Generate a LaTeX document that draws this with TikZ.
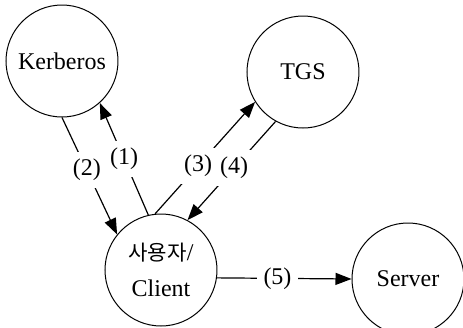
\documentclass[tikz,border=0pt]{standalone}
\usepackage{fontspec}
\setmainfont{Liberation Serif}
\newfontfamily\kor{Noto Sans CJK KR}[Scale=0.88]
\usetikzlibrary{arrows.meta}

\begin{document}
\begin{tikzpicture}[x=0.5pt,y=-0.5pt,
    circ/.style={draw,circle,minimum size=56pt,inner sep=0pt,line width=0.5pt},
    lbl/.style={fill=white,inner sep=3.5pt},
    >={Triangle[length=8pt,width=6pt]},line width=0.6pt,
    font=\fontsize{12}{14}\selectfont]
  \useasboundingbox (0,0) rectangle (463,328);
  % nodos
  \node[circ] (kerb) at (62,61) {Kerberos};
  \node[circ] (tgs) at (303,72) {TGS};
  \node[circ,align=center] (cli) at (161,270) {{\kor 사용자}/\\[4pt]Client};
  \node[circ] (serv) at (408,279) {Server};
  % flechas
  \draw[->] (cli.103) -- node[lbl] {(1)} (kerb.-48);
  \draw[->] (kerb.-90) -- node[lbl,pos=.45] {(2)} (cli.141);
  \draw[->] (cli.96) -- node[lbl,pos=.43] {(3)} (tgs.212);
  \draw[->] (tgs.241) -- node[lbl,pos=.47] {(4)} (cli.62);
  \draw[->] (cli.-8) -- node[lbl,pos=.45] {(5)} (serv.west);
\end{tikzpicture}
\end{document}
